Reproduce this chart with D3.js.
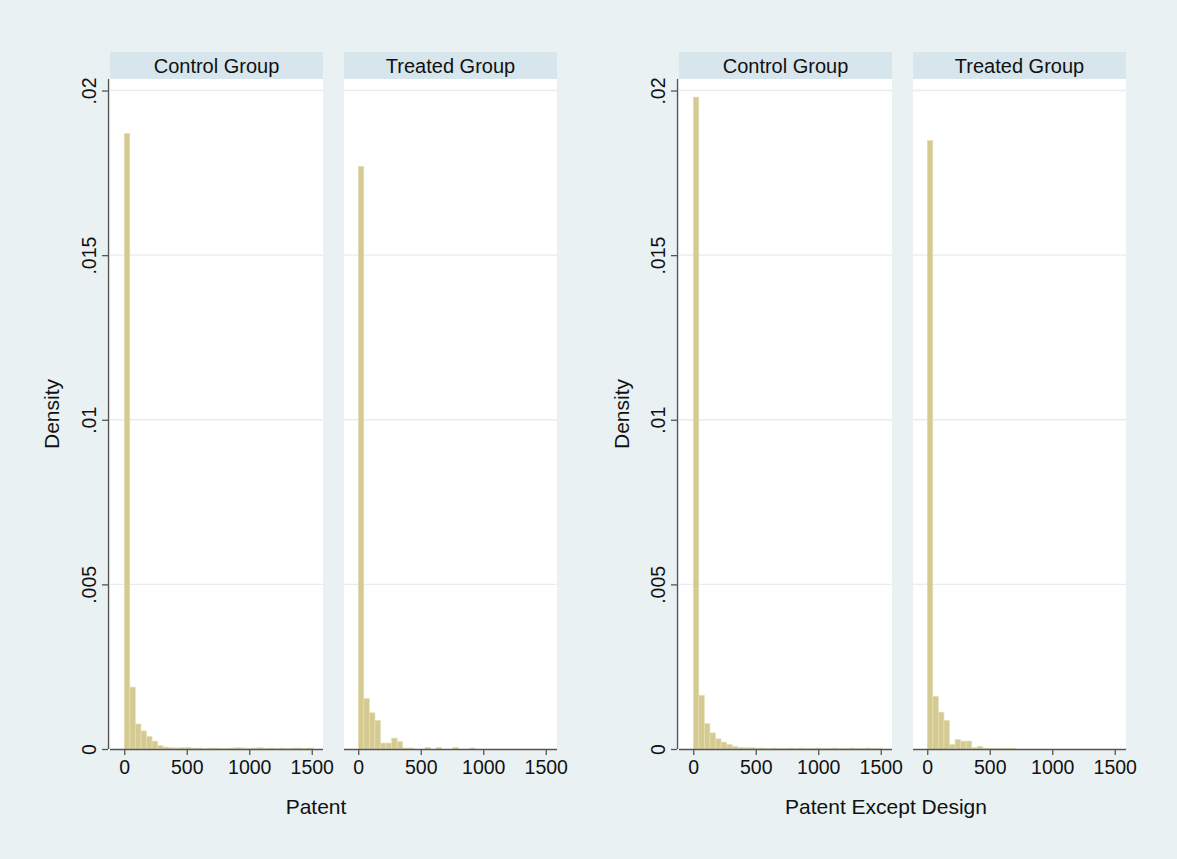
<!DOCTYPE html>
<html>
<head>
<meta charset="utf-8">
<script src="https://cdn.jsdelivr.net/npm/d3@7"></script>
<style>
  html, body { margin: 0; padding: 0; background: #eaf1f3; }
  svg { display: block; font-family: "Liberation Sans", Arial, Helvetica, sans-serif; }
</style>
</head>
<body>
<svg id="chart" width="1177" height="859"></svg>
<script>
// Histogram densities, one value per bin; bins start at 0 and share a common width.
const binWidth = 44.5;
const groups = ["Control Group", "Treated Group"];
const xTicks = [0, 500, 1000, 1500];
const yTicks = [0, 0.005, 0.01, 0.015, 0.02];
const yTickLabels = ["0", ".005", ".01", ".015", ".02"];
const xTitles = ["Patent", "Patent Except Design"];

const patentControl = [0.0187, 0.00188, 0.00076, 0.00055, 0.00038, 0.00024, 0.0001, 0.00006,
  0.00004, 0.00003, 0.00004, 0.00005, 0.00003, 0.00003, 0.00002, 0.00003, 0.00003, 0.00002,
  0.00002, 0.00003, 0.00004, 0.00003, 0.00002, 0.00003, 0.00004, 0.00002, 0.00003, 0.00002,
  0.00003, 0.00002, 0.00003, 0.00003, 0.00002, 0.00003];
const patentTreated = [0.0177, 0.00153, 0.0011, 0.00087, 0.00018, 0.00018, 0.00033, 0.00023,
  0.00003, 0.00003, 0, 0, 0.00005, 0, 0.00005, 0, 0, 0.00005, 0, 0, 0.00003];
const exceptControl = [0.0198, 0.00163, 0.00077, 0.00049, 0.00031, 0.00021, 0.00014, 0.00008,
  0.00005, 0.00004, 0.00004, 0.00003, 0.00003, 0.00002, 0.00003, 0.00002, 0.00002, 0.00003,
  0.00002, 0.00003, 0.00002, 0.00002, 0.00003, 0.00002, 0.00002, 0.00003, 0.00002, 0.00002,
  0.00003, 0.00002, 0.00002, 0.00003, 0.00002, 0.00002];
const exceptTreated = [0.01848, 0.0016, 0.00112, 0.00087, 0.00014, 0.00029, 0.00024, 0.00024,
  0.00004, 0.00008, 0.00002, 0.00002, 0.00002, 0.00002, 0.00002, 0.00002];

const series = [[patentControl, patentTreated], [exceptControl, exceptTreated]];

// Layout of the two combined graphs, each with two panels sharing a y axis.
const graphs = [
  { axisX: 108, panels: [110, 344], titleX: 316, yTitleX: 52 },
  { axisX: 677, panels: [679, 913], titleX: 886, yTitleX: 622 }
];
const panelW = 213;
const stripTop = 52, stripH = 27;
const plotTop = 79, plotBottom = 749;

const svg = d3.select("#chart");
svg.append("rect").attr("width", 1177).attr("height", 859).attr("fill", "#e9f1f3");

const y = d3.scaleLinear().domain([0, 0.02035]).range([plotBottom, plotTop]);

graphs.forEach((g, gi) => {
  g.panels.forEach((px, pi) => {
    const x = d3.scaleLinear().domain([-114, 1590]).range([px, px + panelW]);
    const data = series[gi][pi];

    // strip header
    svg.append("rect").attr("x", px).attr("y", stripTop).attr("width", panelW).attr("height", stripH)
      .attr("fill", "#d7e5ec");
    svg.append("text").attr("x", px + panelW / 2).attr("y", stripTop + stripH / 2 + 7)
      .attr("text-anchor", "middle").attr("font-size", 20).attr("fill", "#111")
      .text(groups[pi]);

    // plot region
    svg.append("rect").attr("x", px).attr("y", plotTop).attr("width", panelW)
      .attr("height", plotBottom - plotTop).attr("fill", "#ffffff");

    // gridlines
    svg.append("g").selectAll("line").data(yTicks.slice(1)).join("line")
      .attr("x1", px).attr("x2", px + panelW)
      .attr("y1", d => y(d)).attr("y2", d => y(d))
      .attr("stroke", "#e8ecee").attr("stroke-width", 1.3);

    // bars
    svg.append("g").selectAll("rect").data(data).join("rect")
      .attr("x", (d, i) => x(i * binWidth))
      .attr("width", x(binWidth) - x(0))
      .attr("y", d => y(d))
      .attr("height", d => y(0) - y(d))
      .attr("fill", "#d5cb92")
      .attr("stroke", "#e6dfb8").attr("stroke-width", 0.6);

    // x axis
    const xa = svg.append("g").attr("transform", `translate(0,${plotBottom})`)
      .call(d3.axisBottom(x).tickValues(xTicks).tickSize(6).tickPadding(5).tickFormat(d3.format("d")));
    xa.select(".domain").attr("stroke", "#555").attr("stroke-width", 1.3)
      .attr("d", `M${px},0.5H${px + panelW}`);
    xa.selectAll(".tick line").attr("stroke", "#555").attr("stroke-width", 1.3);
    xa.selectAll(".tick text").attr("font-size", 19.5).attr("fill", "#111")
      .attr("font-family", "Liberation Sans, Arial, sans-serif");
  });

  // y axis
  const ya = svg.append("g").attr("transform", `translate(${g.axisX},0)`)
    .call(d3.axisLeft(y).tickValues(yTicks).tickSize(6).tickFormat((d, i) => yTickLabels[i]));
  ya.select(".domain").attr("stroke", "#555").attr("stroke-width", 1.3)
    .attr("d", `M0.5,${plotTop}V${plotBottom}`);
  ya.selectAll(".tick line").attr("stroke", "#555").attr("stroke-width", 1.3);
  ya.selectAll(".tick text")
    .attr("font-size", 19.5).attr("fill", "#111").attr("font-family", "Liberation Sans, Arial, sans-serif")
    .attr("x", null).attr("dy", null)
    .attr("text-anchor", "middle")
    .attr("transform", "translate(-12,0) rotate(-90)");

  // axis titles
  svg.append("text").attr("x", g.titleX).attr("y", 814).attr("text-anchor", "middle")
    .attr("font-size", 21).attr("fill", "#111").text(xTitles[gi]);
  svg.append("text").attr("transform", `translate(${g.yTitleX + 7},${(plotTop + plotBottom) / 2}) rotate(-90)`)
    .attr("text-anchor", "middle").attr("font-size", 21).attr("fill", "#111").text("Density");
});
</script>
</body>
</html>
